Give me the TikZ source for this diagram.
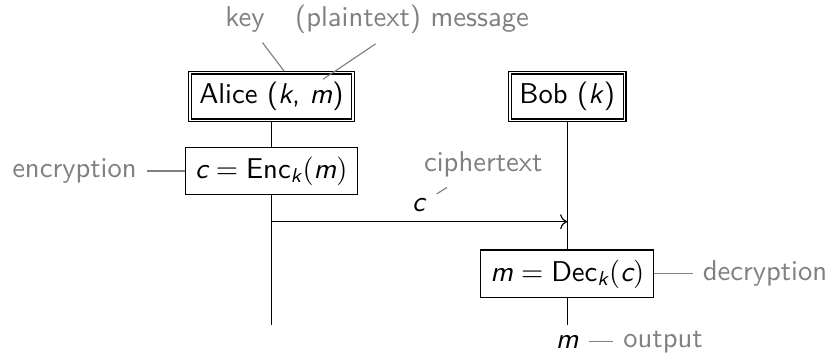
\documentclass[tikz,border=0pt]{standalone}
\usepackage{amsmath}
\usepackage{xcolor}
\usepackage{tikz}
\usetikzlibrary{
  arrows.meta,
  positioning
}
\definecolor{notegray}{HTML}{808080}
\newcommand{\svar}[1]{\textsf{\itshape #1}}

\begin{document}
\begin{tikzpicture}[
  font=\sffamily,
  party/.style={draw, double},
  opbox/.style={draw, fill=white},
  note/.style={text=notegray},
  noteline/.style={draw=notegray},
  msg/.style={->},
]
  \useasboundingbox (0,0) rectangle (10.196,-4.319);

  % Parties
  \node[party] (alice) at (3.33,-1.184) {Alice (\svar{k}, \svar{m})};
  \node[party] (bob) at (6.96,-1.184) {Bob (\svar{k})};

  % Operations
  \node[opbox] (enc) at (3.33,-2.098) {$\svar{c} = \textsf{Enc}_{\svar{k}}(\svar{m})$};
  \node[opbox] (dec) at (6.96,-3.36) {$\svar{m} = \textsf{Dec}_{\svar{k}}(\svar{c})$};

  % Lifelines
  \coordinate (aend) at (3.33,-3.988);
  \node[anchor=north] (mout) at (6.96,-3.988) {\svar{m}};
  \draw (alice.south) -- (enc.north);
  \draw (enc.south) -- (aend);
  \draw (bob.south) -- (dec.north);
  \draw (dec.south) -- (mout.north);

  % Message
  \coordinate (send) at (3.33,-2.72);
  \coordinate (recv) at (6.96,-2.72);
  \draw[msg] (send) -- (recv) node[midway, above] (cmsg) {\svar{c}};

  % Annotations
  \node[note, anchor=base] (keylbl) at (3.006,-0.326) {key};
  \node[note, anchor=base] (msglbl) at (5.055,-0.326) {(plaintext) message};
  \coordinate (kpt) at (3.485,-0.871);
  \coordinate (mpt) at (3.963,-0.972);
  \draw[noteline] (keylbl) -- (kpt);
  \draw[noteline] (msglbl) -- (mpt);

  \node[note, left=0.47cm of enc] (enclbl) {encryption};
  \draw[noteline] (enclbl) -- (enc);
  \node[note, right=0.47cm of dec] (declbl) {decryption};
  \draw[noteline] (dec) -- (declbl);
  \node[note] (ctext) at (5.93,-2.02) {ciphertext};
  \draw[noteline] (cmsg) -- (ctext);
  \node[note, right=0.3cm of mout] (outlbl) {output};
  \draw[noteline] (mout) -- (outlbl);
\end{tikzpicture}
\end{document}
